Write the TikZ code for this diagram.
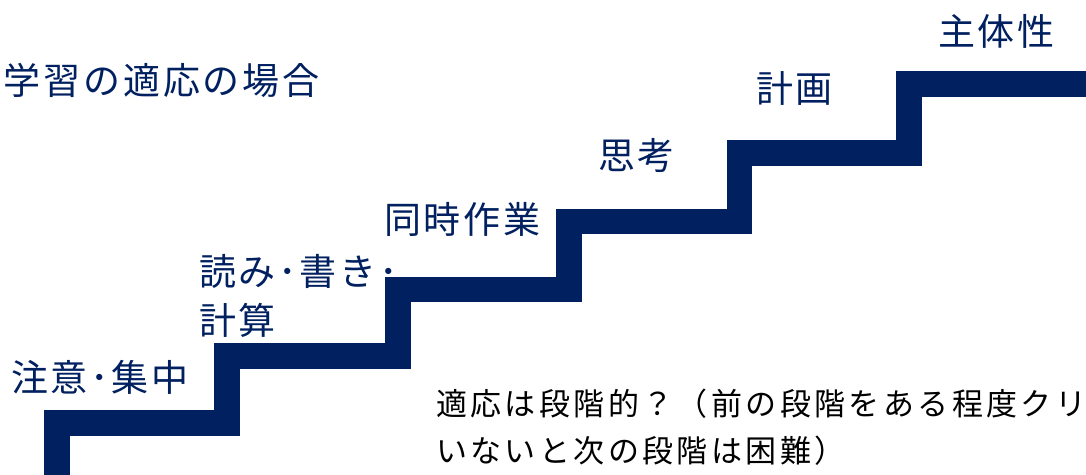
\documentclass[tikz,border=0pt]{standalone}
\usepackage{fontspec}
\newfontfamily\jp[LetterSpace=7.5]{Noto Sans CJK JP}
\newfontfamily\jpn[LetterSpace=11]{Noto Sans CJK JP}
\definecolor{navy}{HTML}{002060}
\tikzset{
  stair/.style={draw=navy, line width=25.5pt, line join=miter, line cap=butt},
  lbl/.style={inner sep=0pt, outer sep=0pt, anchor=west, text=navy, font=\jp\fontsize{37}{49}\selectfont},
  note/.style={inner sep=0pt, outer sep=0pt, anchor=west, text=black, align=left, font=\jpn\fontsize{31}{47}\selectfont}
}
\begin{document}
\begin{tikzpicture}[x=1pt, y=-1pt]
\useasboundingbox (0,0) rectangle (1086,474);
\clip (0,0) rectangle (1086,474);
\fill[white] (0,0) rectangle (1086,474);
% staircase
\draw[stair] (57,490) -- (57,423) -- (227,423) -- (227,356) -- (398,356) -- (398,289.5)
  -- (569,289.5) -- (569,221.5) -- (739.5,221.5) -- (739.5,153) -- (909,153) -- (909,84) -- (1100,84);
% labels
\node[lbl] (title) at (4,80) {学習の適応の場合};
\node[lbl] (s1) at (11,377) {注意･集中};
\node[lbl, align=left] (s2) at (199,296) {読み･書き･\\計算};
\node[lbl] (s3) at (384,219) {同時作業};
\node[lbl] (s4) at (598,155) {思考};
\node[lbl] (s5) at (756,88) {計画};
\node[lbl] (s6) at (938,31) {主体性};
\node[note] (q) at (436,427.5) {適応は段階的？（前の段階をある程度クリア\\いないと次の段階は困難）};
\end{tikzpicture}
\end{document}
